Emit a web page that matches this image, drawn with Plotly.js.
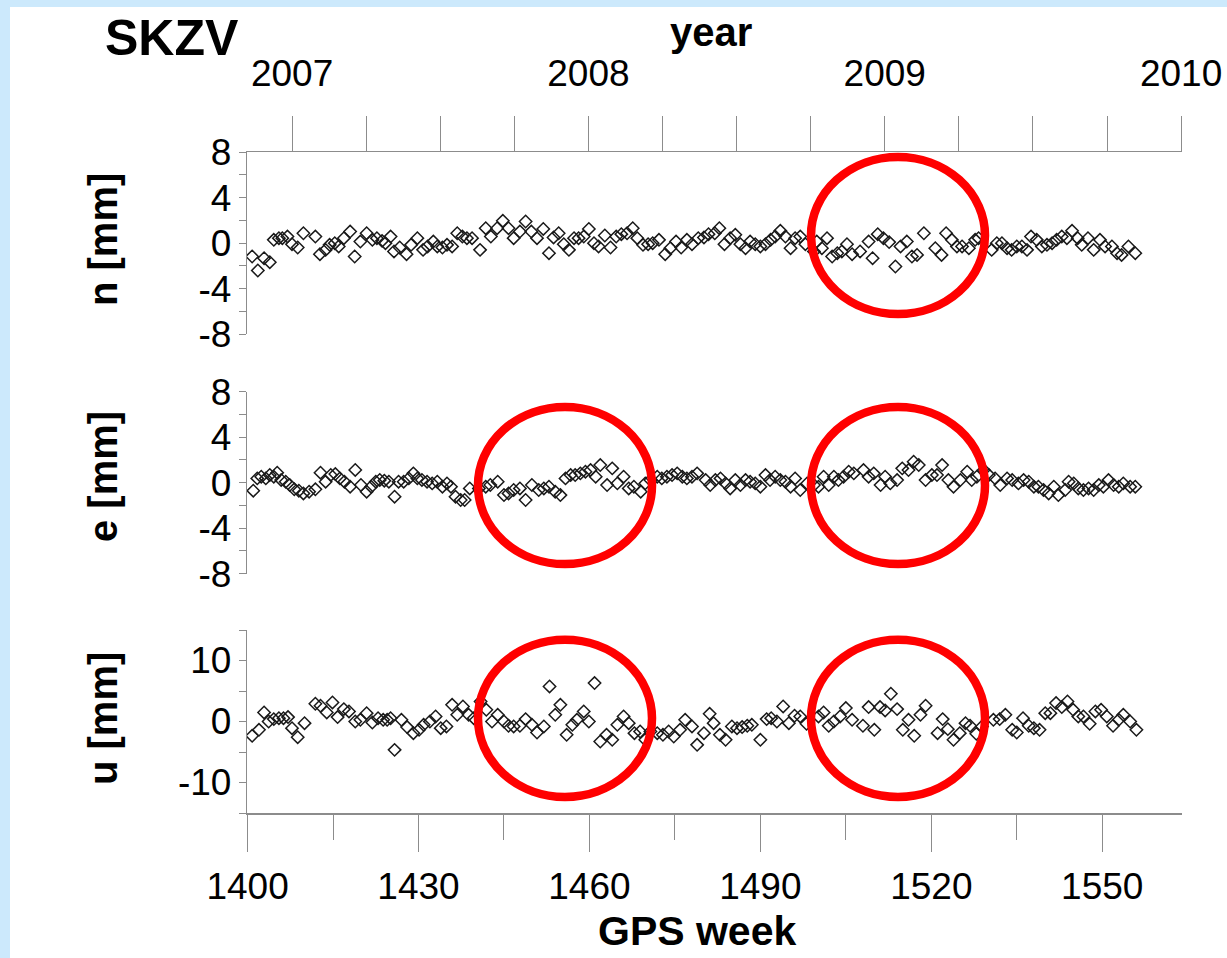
<!DOCTYPE html>
<html><head><meta charset="utf-8">
<script src="https://cdn.plot.ly/plotly-3.0.1.min.js"></script>
<style>
html,body{margin:0;padding:0;background:#cce9fc;width:1227px;height:958px;overflow:hidden}
#chart{position:absolute;left:10px;top:7px;width:1217px;height:951px;background:#fff}
</style></head><body><div id="chart"></div>
<script>
// ---- data ----
const weeksN = [1400.8,1401.8,1402.9,1403.9,1404.6,1405.5,1406.1,1407.0,1407.8,1408.8,1409.8,1411.9,1412.7,1413.7,1414.4,1415.3,1416.0,1416.9,1418.0,1418.8,1419.8,1420.9,1421.9,1422.7,1423.6,1424.2,1425.1,1425.7,1426.7,1427.9,1428.7,1429.8,1430.8,1431.6,1432.6,1433.3,1434.2,1435.0,1435.9,1436.8,1437.7,1438.5,1439.4,1440.8,1441.8,1442.7,1443.8,1444.8,1445.8,1446.7,1447.8,1448.8,1449.8,1450.8,1451.9,1452.9,1453.7,1454.6,
1455.5,1456.4,1457.3,1458.1,1459.0,1459.9,1460.8,1461.6,1462.7,1463.7,1464.7,1465.6,1466.6,1467.6,1468.4,1469.4,1470.3,1471.1,1472.2,1473.3,1474.2,1475.2,1476.1,1477.1,1478.0,1479.1,1480.1,1480.9,1482.0,1482.8,1483.7,1484.7,1485.6,1486.5,1487.4,1488.2,1489.1,1490.0,1490.9,1491.8,1492.6,1493.5,1494.4,1495.3,1496.1,1497.0,1497.9,1499.4,1499.9,1500.8,1501.7,1502.6,1503.5,1504.3,1505.2,1506.1,1507.5,
1509.0,1509.7,1510.6,1511.6,1512.6,1513.7,1514.6,1515.7,1516.6,1517.5,1518.7,1520.7,1521.8,1522.6,1523.6,1524.5,1525.4,1526.6,1527.7,1528.3,1530.6,1531.5,1532.4,1533.3,1534.1,1535.0,1535.9,1536.8,1537.5,1538.5,1539.4,1540.3,1541.2,1542.0,1542.9,1543.8,1544.7,1545.7,1546.4,1547.5,1548.5,1549.6,1550.5,1551.7,1552.6,1553.4,1554.6,1555.8];
const valN = [-1.17,-2.4,-1.32,-1.67,0.29,0.44,0.44,0.58,-0.09,-0.38,0.87,0.58,-0.97,-0.59,-0.15,0,-0.29,0.44,1.02,-1.17,0.14,0.87,0.29,0.44,0.2,0,0.58,-0.73,-0.38,-0.97,-0.15,0.44,-0.59,-0.29,0.14,-0.29,-0.38,-0.15,-0.29,0.87,0.58,0.44,0.44,-0.59,1.31,0.58,1.31,1.96,1.31,0.44,1.02,1.9,1.02,0.44,1.25,-0.88,0.5,0.87,
-0.09,-0.59,0.44,0.44,0.58,1.25,0,-0.29,0.67,-0.38,0.58,0.79,0.87,1.31,0.44,-0.15,-0.09,0,0.29,-0.97,-0.44,0.14,-0.38,0.29,-0.09,0.44,0.5,0.79,0.87,1.31,-0.09,0.44,0.73,-0.09,-0.44,0.14,-0.09,-0.29,-0.09,0.29,0.58,1.08,0.58,-0.44,0.44,0.58,-0.09,-0.73,0.14,-0.44,0.44,-1.17,-0.88,-0.73,-0.09,-0.97,-0.73,
0.14,-1.32,0.79,0.44,0.09,-2.05,-0.29,0.14,-1.17,-1.03,0.87,-0.44,-1.03,0.87,0.29,-0.29,-0.29,-0.44,0.29,0.44,-0.59,0,0,-0.44,-0.59,-0.29,-0.29,-0.59,0.58,0.29,-0.29,-0.15,0,0.29,0.58,0.44,1.08,0.44,-0.15,0.44,-0.59,0.29,-0.29,-0.29,-0.88,-1.03,-0.29,-0.88];

const weeksE = [1401.0,1401.7,1402.4,1403.2,1403.9,1404.6,1405.2,1405.9,1406.7,1407.4,1408.2,1409.0,1409.8,1410.8,1411.9,1412.8,1413.7,1414.6,1415.4,1416.2,1417.0,1418.0,1418.9,1419.9,1420.9,1421.7,1422.5,1423.2,1424.0,1424.8,1425.8,1426.5,1427.4,1428.3,1429.1,1429.8,1430.6,1431.5,1432.4,1433.3,1434.2,1435.0,1435.7,1436.5,1437.4,1438.1,1439.0,1440.6,1441.8,1442.6,1443.9,1445.0,1445.8,1446.7,1447.8,1448.8,1449.9,1451.1,1452.0,1452.9,1454.0,1454.9,
1455.8,1456.7,1457.5,1458.4,1459.3,1460.2,1461.1,1461.9,1463.1,1464.0,1464.9,1466.0,1466.9,1467.8,1469.0,1469.8,1470.7,1471.9,1472.7,1473.6,1474.5,1475.4,1476.3,1477.1,1478.0,1478.9,
1480.4,1481.2,1482.1,1483.0,1483.9,1484.7,1485.6,1486.5,1487.4,1488.2,1489.1,1490.0,1490.9,1491.7,1492.6,1493.5,1494.4,1495.3,1496.1,1497.0,1498.2,1499.4,1500.2,1501.1,1502.0,1502.9,1503.7,1504.6,1505.5,1506.4,1508.1,1509.0,1509.9,1511.1,1511.9,1512.8,1514.0,1514.9,1516.0,1516.9,1517.8,1519.0,1520.1,1521.0,1521.9,1523.0,1523.9,1525.1,1526.3,1527.1,1528.0,1529.2,1530.1,1531.2,1532.1,1533.3,1534.2,1535.3,1536.2,1537.1,1538.0,1538.8,1539.7,1540.6,1541.5,1542.3,1543.5,1544.1,1545.0,1545.8,1546.7,1547.6,1548.5,1549.4,1550.2,1551.1,1552.0,1552.9,1553.7,1554.9,1555.8];
const valE = [-0.7,0.38,0.53,0.38,0.68,0.53,0.88,0.24,0.09,-0.2,-0.58,-0.7,-0.94,-0.79,-0.58,0.88,0.09,0.68,0.76,0.38,0.09,-0.35,1.12,-0.2,-0.79,-0.35,0.09,0.24,0.18,0.09,-1.23,0.09,0.09,0.38,0.82,0.38,0.24,0.09,-0.06,0.09,-0.35,-0.06,-0.35,-1.23,-1.52,-1.52,-0.5,-0.5,-0.35,-0.2,0.09,-1.08,-0.94,-0.64,-0.5,-1.52,-0.2,-0.64,-0.5,-0.35,-0.79,-1.09,
0.38,0.67,0.67,0.82,0.97,1.11,0.53,1.55,-0.21,1.26,-0.06,0.53,-0.5,-0.35,-0.79,-0.06,0.23,0.53,0.38,0.53,0.67,0.82,0.53,0.38,0.53,0.82,
0.23,-0.21,0.23,0.38,-0.06,-0.5,0.23,-0.21,0.23,0.09,-0.06,-0.35,0.67,0.23,0.53,0.23,0.09,-0.35,0.38,-0.65,-0.06,-0.21,-0.35,0.53,-0.21,0.53,0.23,0.53,0.97,0.82,1.11,0.53,0.82,-0.21,0.53,-0.06,0.23,1.26,1.11,1.85,1.55,0.23,0.67,0.67,1.55,0.23,-0.35,0.23,0.97,0.23,0.53,1.11,0.67,0.38,-0.21,0.38,0.23,-0.06,0.23,0.09,-0.35,-0.35,-0.65,-0.94,-0.35,-1.09,-0.65,0.09,-0.06,-0.5,-0.65,-0.5,-0.65,-0.21,-0.35,0.23,-0.21,-0.35,-0.06,-0.35,-0.35];

const weeksU = [1400.8,1402.0,1402.9,1403.7,1404.6,1405.5,1406.3,1407.1,1407.8,1408.8,1410.0,1411.9,1412.8,1413.9,1414.9,1415.8,1416.9,1417.8,1418.9,1419.8,1420.9,1421.9,1422.9,1423.8,1424.5,1425.1,1425.8,1427.0,1428.0,1429.1,1430.1,1430.9,1432.0,1433.0,1433.9,1434.9,1435.9,1436.8,1437.8,1438.8,1439.7,1440.9,1441.9,1442.9,1443.9,1445.0,1445.8,1446.7,1447.8,1448.8,1449.9,1450.8,1452.0,1453.0,1454.0,1454.9,1456.0,1457.0,1457.8,1459.0,1459.9,1460.9,1461.9,1463.0,1464.0,1464.9,1466.0,1466.9,1467.9,1468.9,1469.8,1470.7,1471.9,1472.9,1473.9,1474.8,1475.9,1476.8,1478.0,1478.9,
1480.1,1481.1,1481.8,1482.9,1483.9,1485.0,1485.9,1486.8,1487.7,1488.5,1490.0,1491.1,1491.9,1492.9,1494.0,1495.0,1496.0,1497.0,1498.1,1500.2,1501.1,1502.0,1502.9,1504.0,1505.0,1506.1,1508.0,1509.0,1510.0,1511.0,1511.9,1512.9,1514.0,1515.0,1516.0,1517.0,1518.1,1519.0,1521.1,1522.0,1522.9,1523.9,1525.0,1526.0,1526.8,1527.9,1528.9,1530.9,1532.0,1533.0,1534.2,1535.0,1536.1,1537.1,1538.0,1539.0,1540.0,1540.9,1541.9,1542.9,1543.9,1544.9,1545.8,1546.7,1547.8,1548.8,1549.8,1550.8,1551.9,1552.9,1553.7,1554.9,1556.0];
const valU = [-2.35,-1.36,1.48,0,0.39,0.55,0.55,0.72,-1.09,-2.57,-0.27,2.91,2.58,1.48,3.13,0.72,2.03,1.65,0,0.28,1.37,-0.16,0.55,0.28,0.28,0.55,-4.65,0.28,-0.92,-1.91,-1.36,-0.54,0,0.83,-1.09,-0.81,2.74,1.1,2.47,1.1,0.55,3.29,1.92,0,1.1,0,-0.7,-0.81,-0.7,0.39,-0.54,-1.8,-0.81,5.75,1.1,2.74,-2.18,-0.54,0.28,1.65,0,6.3,-3.28,-2.18,-3.0,-0.54,0.83,-0.27,-1.91,-1.64,-3.0,-1.64,-1.91,-2.18,-1.64,-2.46,-1.36,0.28,-0.81,-3.83,
-1.91,1.26,-0.27,-2.18,-3.0,-0.81,-1.09,-0.92,-0.7,-0.54,-3.0,0.39,0.55,0,2.47,-0.27,0.94,0.83,-0.38,0.83,1.48,-0.7,0,0.83,2.2,0.28,-0.7,2.36,-1.36,2.36,1.81,4.55,2.03,-1.36,0.28,-2.35,1.1,2.58,-1.91,0.39,-1.25,-3.0,-1.91,-0.27,-0.7,-2.02,-0.81,0.28,0.39,1.1,-1.36,-1.8,0.55,-0.7,-1.09,-1.36,1.37,1.37,3.02,2.36,3.29,1.92,0.83,0.83,-0.38,1.65,1.92,0.83,-0.7,0.28,1.1,0,-1.36];

const yearTicks = [2007, 2008, 2009, 2010];
const neTicks = [-8, -4, 0, 4, 8];
const uTicks = [-10, 0, 10];
const panelTitles = ['n [mm]', 'e [mm]', 'u [mm]'];

// ---- geometry helpers (page pixels -> paper fractions) ----
const OX = 10, OY = 7, W = 1217, H = 951, ML = 237, MR = 45, MT = 145, MB = 145;
const PW = W - ML - MR, PH = H - MT - MB;
const px = x => (x - OX - ML) / PW;
const py = y => (H - MB - (y - OY)) / PH;

const FONT = 'Liberation Sans, Arial, sans-serif';
const AX = '#8c8c8c';

const mk = {symbol: 'diamond-open', size: 9.5, color: '#1a1a1a', line: {width: 1.5, color: '#1a1a1a'}};
const traces = [
  {x: weeksN, y: valN, xaxis: 'x', yaxis: 'y', mode: 'markers', marker: mk, hoverinfo: 'skip'},
  {x: weeksE, y: valE, xaxis: 'x', yaxis: 'y2', mode: 'markers', marker: mk, hoverinfo: 'skip'},
  {x: weeksU, y: valU, xaxis: 'x', yaxis: 'y3', mode: 'markers', marker: mk, hoverinfo: 'skip'},
  {x: yearTicks, y: yearTicks.map(() => null), xaxis: 'x2', yaxis: 'y', mode: 'markers', hoverinfo: 'skip'}
];

function yax(domain, range, tv, minorDt) {
  return {
    domain: domain, range: range, anchor: 'x', showline: true, linecolor: AX, linewidth: 1.2,
    tickmode: 'array', tickvals: tv, ticktext: tv.map(String),
    ticks: 'outside', ticklen: 7, tickcolor: AX, tickwidth: 1,
    minor: {tickmode: 'linear', tick0: 0, dtick: minorDt, ticks: 'outside', ticklen: 7, tickcolor: AX, tickwidth: 1},
    showgrid: false, zeroline: false, tickfont: {family: FONT, size: 37, color: '#000'}, fixedrange: true
  };
}

const circles = [[898, 235.5], [565, 485.5], [898, 485.5], [565, 718.3], [898, 718.3]];
const RX = 87, RY = 78.6;
const shapes = circles.map(c => ({
  type: 'circle', xref: 'paper', yref: 'paper', layer: 'above',
  x0: px(c[0] - RX), x1: px(c[0] + RX), y0: py(c[1] + RY), y1: py(c[1] - RY),
  line: {color: '#ff0000', width: 8.5}
}));

const ann = (text, x, y, size, angle) => ({
  text: '<b>' + text + '</b>', xref: 'paper', yref: 'paper', x: px(x), y: py(y),
  xanchor: 'center', yanchor: 'middle', showarrow: false, textangle: angle || 0,
  font: {family: FONT, size: size, color: '#000'}
});

const layout = {
  width: W, height: H, margin: {l: ML, r: MR, t: MT, b: MB, pad: 0},
  paper_bgcolor: '#ffffff', plot_bgcolor: 'rgba(0,0,0,0)', showlegend: false,
  font: {family: FONT, color: '#000'},
  xaxis: {
    domain: [0, 1], range: [1399.9, 1564], anchor: 'y3', showline: true, linecolor: AX, linewidth: 1.5,
    tickmode: 'linear', tick0: 1400, dtick: 30, ticks: 'outside', ticklen: 37, tickcolor: AX, tickwidth: 1,
    minor: {tickmode: 'linear', tick0: 1400, dtick: 15, ticks: 'outside', ticklen: 25, tickcolor: AX, tickwidth: 1},
    showgrid: false, zeroline: false, tickfont: {family: FONT, size: 37, color: '#000'}, ticklabelstandoff: 3, fixedrange: true
  },
  xaxis2: {
    overlaying: 'x', side: 'top', anchor: 'y', range: [2006.848, 2010.003], showline: true, linecolor: AX, linewidth: 1.5,
    tickmode: 'array', tickvals: yearTicks, ticktext: yearTicks.map(String),
    ticks: 'outside', ticklen: 35, tickcolor: AX, tickwidth: 1,
    minor: {tickmode: 'linear', tick0: 2007, dtick: 0.25, ticks: 'outside', ticklen: 35, tickcolor: AX, tickwidth: 1},
    showgrid: false, zeroline: false, tickfont: {family: FONT, size: 37, color: '#000'}, ticklabelstandoff: 15, fixedrange: true
  },
  yaxis: yax([py(334.3), 1], [-8, 8], neTicks, 2),
  yaxis2: yax([py(573.7), py(391.7)], [-8, 8], neTicks, 2),
  yaxis3: yax([0, py(630)], [-15, 15], uTicks, 5),
  shapes: shapes,
  annotations: [
    ann('SKZV', 172, 38, 50),
    ann('year', 711, 32, 40),
    ann('GPS week', 697, 931, 41),
    ann(panelTitles[0], 103, 240, 40, -90),
    ann(panelTitles[1], 103, 477, 40, -90),
    ann(panelTitles[2], 103, 719, 40, -90)
  ]
};

Plotly.newPlot('chart', traces, layout, {staticPlot: true, displayModeBar: false});
</script></body></html>
